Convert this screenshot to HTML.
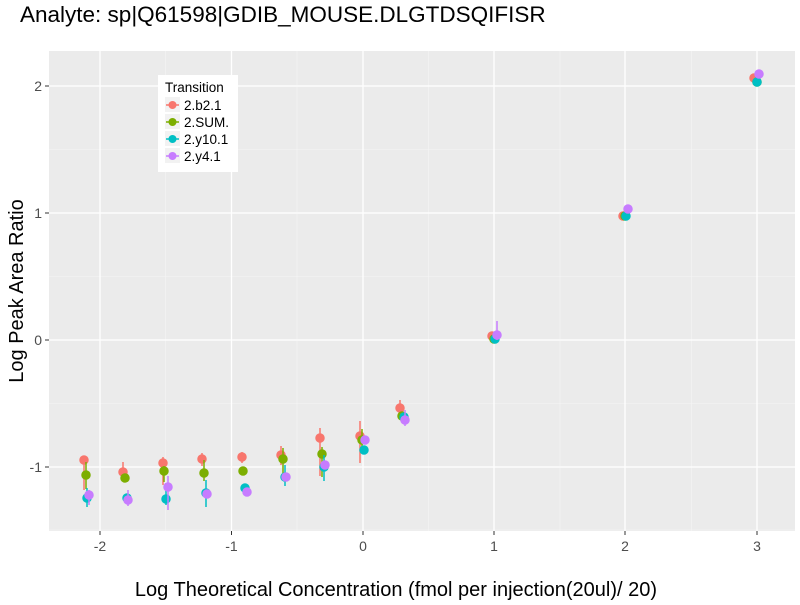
<!DOCTYPE html><html><head><style>body{margin:0;background:#fff}svg{font-family:"Liberation Sans",sans-serif}</style></head><body>
<svg width="800" height="600" xmlns="http://www.w3.org/2000/svg">
<text x="20" y="22" font-size="22.5" fill="#000">Analyte: sp|Q61598|GDIB_MOUSE.DLGTDSQIFISR</text>
<rect x="49" y="51" width="746" height="480" fill="#ebebeb"/>
<g stroke="#f5f5f5" stroke-width="0.6">
<line x1="49" x2="795" y1="403.5" y2="403.5"/><line x1="49" x2="795" y1="276.5" y2="276.5"/><line x1="49" x2="795" y1="149.5" y2="149.5"/><line x1="49" x2="795" y1="530" y2="530"/>
<line y1="51" y2="531" x1="165.5" x2="165.5"/><line y1="51" y2="531" x1="297" x2="297"/><line y1="51" y2="531" x1="428.5" x2="428.5"/><line y1="51" y2="531" x1="560" x2="560"/><line y1="51" y2="531" x1="691.5" x2="691.5"/>
</g>
<g stroke="#fff" stroke-width="1.3">
<line x1="49" x2="795" y1="467" y2="467"/><line x1="49" x2="795" y1="340" y2="340"/><line x1="49" x2="795" y1="213" y2="213"/><line x1="49" x2="795" y1="86" y2="86"/>
<line y1="51" y2="531" x1="100" x2="100"/><line y1="51" y2="531" x1="231.5" x2="231.5"/><line y1="51" y2="531" x1="363" x2="363"/><line y1="51" y2="531" x1="494" x2="494"/><line y1="51" y2="531" x1="625" x2="625"/><line y1="51" y2="531" x1="757" x2="757"/>
</g>
<g stroke="#333" stroke-width="1">
<line x1="45" x2="49" y1="467" y2="467"/><line x1="45" x2="49" y1="340" y2="340"/><line x1="45" x2="49" y1="213" y2="213"/><line x1="45" x2="49" y1="86" y2="86"/>
<line y1="531" y2="535" x1="100" x2="100"/><line y1="531" y2="535" x1="231.5" x2="231.5"/><line y1="531" y2="535" x1="363" x2="363"/><line y1="531" y2="535" x1="494" x2="494"/><line y1="531" y2="535" x1="625" x2="625"/><line y1="531" y2="535" x1="757" x2="757"/>
</g>
<g font-size="14" fill="#4d4d4d" text-anchor="end">
<text x="42" y="472">-1</text><text x="42" y="345">0</text><text x="42" y="218">1</text><text x="42" y="91">2</text></g>
<g font-size="14" fill="#4d4d4d" text-anchor="middle">
<text x="100" y="551">-2</text><text x="231.5" y="551">-1</text><text x="363" y="551">0</text><text x="494" y="551">1</text><text x="625" y="551">2</text><text x="757" y="551">3</text></g>
<text x="396" y="596" font-size="20" text-anchor="middle">Log Theoretical Concentration (fmol per injection(20ul)/ 20)</text>
<text transform="translate(23,291) rotate(-90)" font-size="20" text-anchor="middle">Log Peak Area Ratio</text>
<g stroke-width="1.5">
<g stroke="#F8766D" fill="#F8766D">
<line x1="84" x2="84" y1="460" y2="490"/><line x1="123" x2="123" y1="462" y2="480"/><line x1="163" x2="163" y1="457" y2="485"/><line x1="202" x2="202" y1="453" y2="466"/><line x1="242" x2="242" y1="452" y2="463"/><line x1="281" x2="281" y1="446" y2="465"/><line x1="320" x2="320" y1="428" y2="476"/><line x1="360" x2="360" y1="421" y2="463"/><line x1="400" x2="400" y1="400" y2="416"/>
<circle cx="84" cy="460" r="4"/><circle cx="123" cy="472" r="4"/><circle cx="163" cy="463" r="4"/><circle cx="202" cy="459" r="4"/><circle cx="242" cy="457" r="4"/><circle cx="281" cy="455" r="4"/><circle cx="320" cy="438" r="4"/><circle cx="360" cy="436" r="4"/><circle cx="400" cy="408" r="4"/><circle cx="492" cy="336" r="4"/><circle cx="623" cy="216" r="4"/><circle cx="754" cy="78" r="4"/></g>
<g stroke="#7CAE00" fill="#7CAE00">
<line x1="86" x2="86" y1="462" y2="489"/><line x1="164" x2="164" y1="466" y2="482"/><line x1="204" x2="204" y1="460" y2="481"/><line x1="283" x2="283" y1="448" y2="473"/><line x1="322" x2="322" y1="447" y2="477"/><line x1="362" x2="362" y1="429" y2="452"/>
<circle cx="86" cy="475" r="4"/><circle cx="125" cy="478" r="4"/><circle cx="164" cy="471" r="4"/><circle cx="204" cy="473" r="4"/><circle cx="243" cy="471" r="4"/><circle cx="283" cy="459" r="4"/><circle cx="322" cy="454" r="4"/><circle cx="362" cy="440" r="4"/><circle cx="402" cy="416" r="4"/><circle cx="494" cy="339" r="4"/><circle cx="625" cy="216" r="4"/><circle cx="757" cy="82" r="4"/></g>
<g stroke="#00BFC4" fill="#00BFC4">
<line x1="87" x2="87" y1="488" y2="507"/><line x1="166" x2="166" y1="483" y2="505"/><line x1="206" x2="206" y1="480" y2="507"/><line x1="285" x2="285" y1="465" y2="486"/><line x1="324" x2="324" y1="455" y2="481"/>
<circle cx="87" cy="498" r="4"/><circle cx="127" cy="498" r="4"/><circle cx="166" cy="499" r="4"/><circle cx="206" cy="493" r="4"/><circle cx="245" cy="488" r="4"/><circle cx="285" cy="477" r="4"/><circle cx="324" cy="467" r="4"/><circle cx="364" cy="450" r="4"/><circle cx="404" cy="417" r="4"/><circle cx="495" cy="339" r="4"/><circle cx="626" cy="216" r="4"/><circle cx="757" cy="82" r="4"/></g>
<g stroke="#C77CFF" fill="#C77CFF">
<line x1="89" x2="89" y1="490" y2="505"/><line x1="128" x2="128" y1="490" y2="506"/><line x1="168" x2="168" y1="476" y2="510"/><line x1="405" x2="405" y1="410" y2="426"/><line x1="497" x2="497" y1="321" y2="340"/>
<circle cx="89" cy="495" r="4"/><circle cx="128" cy="500" r="4"/><circle cx="168" cy="487" r="4"/><circle cx="207" cy="494" r="4"/><circle cx="247" cy="492" r="4"/><circle cx="286" cy="477" r="4"/><circle cx="325" cy="465" r="4"/><circle cx="365" cy="440" r="4"/><circle cx="405" cy="420" r="4"/><circle cx="497" cy="335" r="4"/><circle cx="628" cy="209" r="4"/><circle cx="759" cy="74" r="4"/></g>
</g>
<rect x="158" y="75" width="80" height="97" fill="#fff"/>
<text x="165" y="92" font-size="13.5">Transition</text>
<g font-size="13.5" fill="#000">
<rect x="165" y="97" width="15" height="15" fill="#f2f2f2"/><line x1="166" x2="179" y1="105" y2="105" stroke="#F8766D" stroke-width="1.5"/><circle cx="172.5" cy="105" r="4" fill="#F8766D"/><text x="184" y="110">2.b2.1</text>
<rect x="165" y="114" width="15" height="15" fill="#f2f2f2"/><line x1="166" x2="179" y1="122" y2="122" stroke="#7CAE00" stroke-width="1.5"/><circle cx="172.5" cy="122" r="4" fill="#7CAE00"/><text x="184" y="127">2.SUM.</text>
<rect x="165" y="131" width="15" height="15" fill="#f2f2f2"/><line x1="166" x2="179" y1="139" y2="139" stroke="#00BFC4" stroke-width="1.5"/><circle cx="172.5" cy="139" r="4" fill="#00BFC4"/><text x="184" y="144">2.y10.1</text>
<rect x="165" y="148" width="15" height="15" fill="#f2f2f2"/><line x1="166" x2="179" y1="156" y2="156" stroke="#C77CFF" stroke-width="1.5"/><circle cx="172.5" cy="156" r="4" fill="#C77CFF"/><text x="184" y="161">2.y4.1</text>
</g>
</svg>
</body></html>
